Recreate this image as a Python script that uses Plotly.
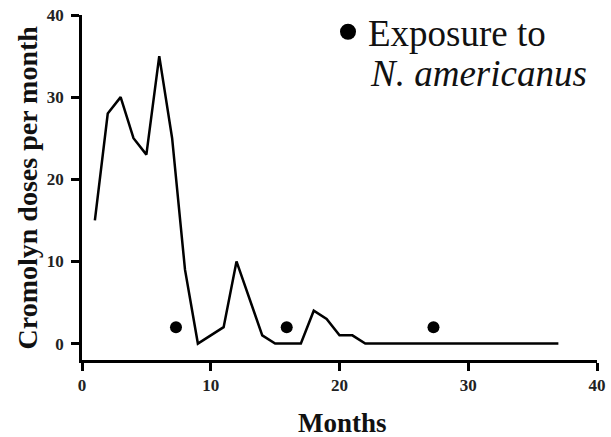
import plotly.graph_objects as go

months = list(range(1, 38))
doses = [15, 28, 30, 25, 23, 35, 25, 9, 0, 1, 2, 10, 5.5, 1, 0, 0, 0, 4, 3, 1, 1,
         0, 0, 0, 0, 0, 0, 0, 0, 0, 0, 0, 0, 0, 0, 0, 0]
exposure_months = [7.3, 15.9, 27.3]
exposure_level = [2, 2, 2]
tick_vals = [0, 10, 20, 30, 40]
tick_text = ["<b>%d</b>" % v for v in tick_vals]

serif = "Liberation Serif"

fig = go.Figure()
fig.add_trace(go.Scatter(x=months, y=doses, mode="lines",
                         line=dict(color="black", width=2.5),
                         showlegend=False, hoverinfo="skip"))
fig.add_trace(go.Scatter(x=exposure_months, y=exposure_level, mode="markers",
                         marker=dict(color="black", size=12),
                         showlegend=False))
# legend-only entry (larger symbol as in the reference key)
fig.add_trace(go.Scatter(x=[None], y=[None], mode="markers",
                         marker=dict(color="black", size=16),
                         name="Exposure to", showlegend=True))

axis_common = dict(showline=True, linecolor="black", linewidth=2.5,
                   ticks="outside", ticklen=8, tickwidth=2.5, tickcolor="black",
                   showgrid=False, zeroline=False, automargin=False,
                   ticklabeloverflow="allow",
                   tickfont=dict(family=serif, size=17, color="#222"))

fig.update_layout(
    width=611, height=437,
    margin=dict(l=82, r=14, t=15, b=77, autoexpand=False),
    plot_bgcolor="white", paper_bgcolor="white",
    xaxis=dict(range=[0, 40], tickvals=tick_vals, ticktext=tick_text, **axis_common),
    yaxis=dict(range=[-2, 40], tickvals=tick_vals, ticktext=tick_text,
               ticklabelstandoff=4, **axis_common),
    legend=dict(x=0.4777, y=1.04, xanchor="left", yanchor="top",
                font=dict(family=serif, size=37, color="#111"),
                bgcolor="rgba(0,0,0,0)", itemwidth=30),
    annotations=[
        dict(text="<i>N. americanus</i>", xref="paper", yref="paper",
             x=0.5553, y=0.831, xanchor="left", yanchor="middle", showarrow=False,
             font=dict(family=serif, size=37, color="#111")),
        dict(text="<b>Cromolyn doses per month</b>", xref="paper", yref="paper",
             x=-0.1049, y=0.5, xanchor="center", yanchor="middle", showarrow=False,
             textangle=-90, font=dict(family=serif, size=28, color="#111")),
        dict(text="<b>Months</b>", xref="paper", yref="paper",
             x=0.505, y=-0.1826, xanchor="center", yanchor="middle", showarrow=False,
             font=dict(family=serif, size=27, color="#111")),
    ],
)

# remove the default page margin so the figure fills the window exactly
fig.write_html("out.html",
               config={"displayModeBar": False},
               post_script="document.body.style.margin='0';document.body.style.overflow='hidden';")
